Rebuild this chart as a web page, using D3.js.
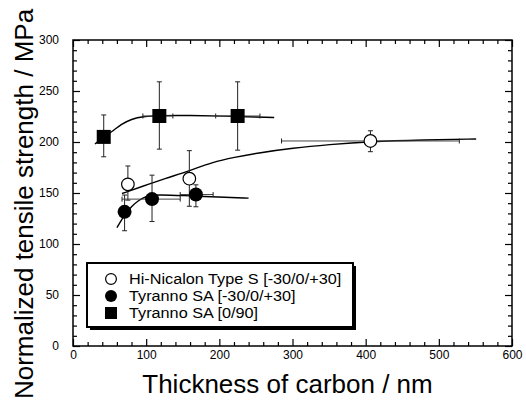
<!DOCTYPE html>
<html>
<head>
<meta charset="utf-8">
<script src="https://cdn.jsdelivr.net/npm/d3@7"></script>
<style>
  body { margin: 0; background: #fff; }
  svg { font-family: Arial, "Liberation Sans", sans-serif; }
  .tick line { stroke: #000; stroke-width: 1.2; }
</style>
</head>
<body>
<div id="chart"></div>
<script>
// series names, used in the legend
var seriesNames = ["Hi-Nicalon Type S [-30/0/+30]", "Tyranno SA [-30/0/+30]", "Tyranno SA [0/90]"];

// Hi-Nicalon Type S [-30/0/+30]: [x, y, xLow, xHigh, yLow, yHigh]
var hiNicalon = [
  [75, 158.5, 75, 75, 143, 176.5],
  [159, 164, 154, 164, 137, 191.5],
  [406.5, 201, 285, 528, 190.5, 211]
];
// Tyranno SA [-30/0/+30]
var tyrannoAngle = [
  [70.5, 131.5, 70.5, 70.5, 113, 148],
  [108, 144, 67, 146.5, 122, 167.5],
  [168, 148.5, 146.5, 191.5, 136.5, 158]
];
// Tyranno SA [0/90]
var tyrannoCross = [
  [42, 205, 42, 42, 185.5, 226.5],
  [118, 225.5, 95.5, 136.5, 193, 259],
  [225, 225.5, 195, 255.5, 192, 259]
];

// fitted curves
var curveHiNicalon = [[67, 149.5], [95, 156.5], [125, 164], [160, 172], [190, 180], [220, 185], [255, 189.5], [300, 194], [350, 197.5], [406, 200.5], [480, 202], [551, 203]];
var curveTyrannoAngle = [[60, 116], [70, 128], [80, 137], [90, 143], [100, 147], [115, 148.5], [150, 147.5], [200, 146], [240, 145]];
var curveTyrannoCross = [[30, 198], [42, 205], [55, 211], [66, 217.5], [80, 222.5], [95, 225], [120, 226], [160, 226], [200, 225.5], [275, 224]];

var xMajor = [0, 100, 200, 300, 400, 500, 600];
var yMajor = [0, 50, 100, 150, 200, 250, 300];

var W = 526, H = 407;
var margin = { top: 40, right: 14, bottom: 61, left: 73 },
    width = W - margin.left - margin.right,
    height = H - margin.top - margin.bottom;

var svg = d3.select("#chart").append("svg")
  .attr("width", W).attr("height", H);

var g = svg.append("g")
  .attr("transform", "translate(" + margin.left + "," + margin.top + ")");

var x = d3.scaleLinear().domain([0, 600]).range([0, width]);
var y = d3.scaleLinear().domain([0, 300]).range([height, 0]);

var xMinor = d3.range(0, 601, 20).filter(function(v) { return v % 100 != 0; });
var yMinor = d3.range(0, 301, 10).filter(function(v) { return v % 50 != 0; });

// axes: ticks inside on all four sides
function styleAxis(sel) {
  sel.select(".domain").remove();
  sel.selectAll("text").attr("font-size", "12px").attr("fill", "#000");
}

g.append("g").attr("transform", "translate(0," + height + ")")
  .call(d3.axisBottom(x).tickValues(xMajor).tickSize(-7).tickPadding(4))
  .call(styleAxis);
g.append("g").attr("transform", "translate(0," + height + ")")
  .call(d3.axisBottom(x).tickValues(xMinor).tickSize(-4).tickFormat(""))
  .call(styleAxis);
g.append("g")
  .call(d3.axisTop(x).tickValues(xMajor).tickSize(-7).tickFormat(""))
  .call(styleAxis);
g.append("g")
  .call(d3.axisTop(x).tickValues(xMinor).tickSize(-4).tickFormat(""))
  .call(styleAxis);

g.append("g")
  .call(d3.axisLeft(y).tickValues(yMajor).tickSize(-7).tickPadding(14))
  .call(styleAxis);
g.append("g")
  .call(d3.axisLeft(y).tickValues(yMinor).tickSize(-4).tickFormat(""))
  .call(styleAxis);
g.append("g").attr("transform", "translate(" + width + ",0)")
  .call(d3.axisRight(y).tickValues(yMajor).tickSize(-7).tickFormat(""))
  .call(styleAxis);
g.append("g").attr("transform", "translate(" + width + ",0)")
  .call(d3.axisRight(y).tickValues(yMinor).tickSize(-4).tickFormat(""))
  .call(styleAxis);

g.append("rect")
  .attr("x", 0).attr("y", 0).attr("width", width).attr("height", height)
  .attr("fill", "none").attr("stroke", "#000").attr("stroke-width", 1.5);

// fitted curves
var line = d3.line()
  .x(function(d) { return x(d[0]); })
  .y(function(d) { return y(d[1]); })
  .curve(d3.curveBasis);

[curveHiNicalon, curveTyrannoAngle, curveTyrannoCross].forEach(function(c) {
  g.append("path").datum(c)
    .attr("d", line)
    .attr("fill", "none")
    .attr("stroke", "#000")
    .attr("stroke-width", 1.4);
});

// error bars
function errorBars(data) {
  var cap = 2.5;
  data.forEach(function(d) {
    var eb = g.append("g").attr("stroke", "#222").attr("stroke-width", 1).attr("fill", "none");
    if (d[2] != d[3]) {
      eb.append("line").attr("x1", x(d[2])).attr("x2", x(d[3])).attr("y1", y(d[1])).attr("y2", y(d[1])).attr("stroke", "#444");
      eb.append("line").attr("x1", x(d[2])).attr("x2", x(d[2])).attr("y1", y(d[1]) - cap).attr("y2", y(d[1]) + cap);
      eb.append("line").attr("x1", x(d[3])).attr("x2", x(d[3])).attr("y1", y(d[1]) - cap).attr("y2", y(d[1]) + cap);
    }
    eb.append("line").attr("x1", x(d[0])).attr("x2", x(d[0])).attr("y1", y(d[4])).attr("y2", y(d[5]));
    eb.append("line").attr("x1", x(d[0]) - cap).attr("x2", x(d[0]) + cap).attr("y1", y(d[4])).attr("y2", y(d[4]));
    eb.append("line").attr("x1", x(d[0]) - cap).attr("x2", x(d[0]) + cap).attr("y1", y(d[5])).attr("y2", y(d[5]));
  });
}
errorBars(hiNicalon);
errorBars(tyrannoAngle);
errorBars(tyrannoCross);

// markers
function drawMarker(sel, type, cx, cy, size) {
  if (type == 0) {
    sel.append("circle").attr("cx", cx).attr("cy", cy).attr("r", size * 0.45)
      .attr("fill", "#fff").attr("stroke", "#000").attr("stroke-width", 1.2);
  } else if (type == 1) {
    sel.append("circle").attr("cx", cx).attr("cy", cy).attr("r", size * 0.5)
      .attr("fill", "#000");
  } else {
    sel.append("rect").attr("x", cx - size / 2).attr("y", cy - size / 2)
      .attr("width", size).attr("height", size).attr("fill", "#000");
  }
}

[hiNicalon, tyrannoAngle, tyrannoCross].forEach(function(s, i) {
  s.forEach(function(d) { drawMarker(g, i, x(d[0]), y(d[1]), 14); });
});

// legend with drop shadow
var lg = svg.append("g").attr("transform", "translate(87,263)");
lg.append("rect").attr("x", 3).attr("y", 3).attr("width", 266).attr("height", 64).attr("fill", "#000");
lg.append("rect").attr("x", 0).attr("y", 0).attr("width", 266).attr("height", 64)
  .attr("fill", "#fff").attr("stroke", "#000").attr("stroke-width", 2);
seriesNames.forEach(function(name, i) {
  var cy = 16 + i * 17;
  drawMarker(lg, i, 24, cy, 12);
  lg.append("text")
    .attr("transform", "translate(42," + cy + ") scale(1.16,1)")
    .attr("dy", "0.35em")
    .attr("font-size", "14px").text(name);
});

// axis titles
svg.append("text")
  .attr("x", 287.5).attr("y", 393)
  .attr("text-anchor", "middle")
  .attr("font-size", "26px")
  .text("Thickness of carbon / nm");

svg.append("text")
  .attr("transform", "translate(33,204) rotate(-90)")
  .attr("text-anchor", "middle")
  .attr("font-size", "26px")
  .text("Normalized tensile strength / MPa");
</script>
</body>
</html>
